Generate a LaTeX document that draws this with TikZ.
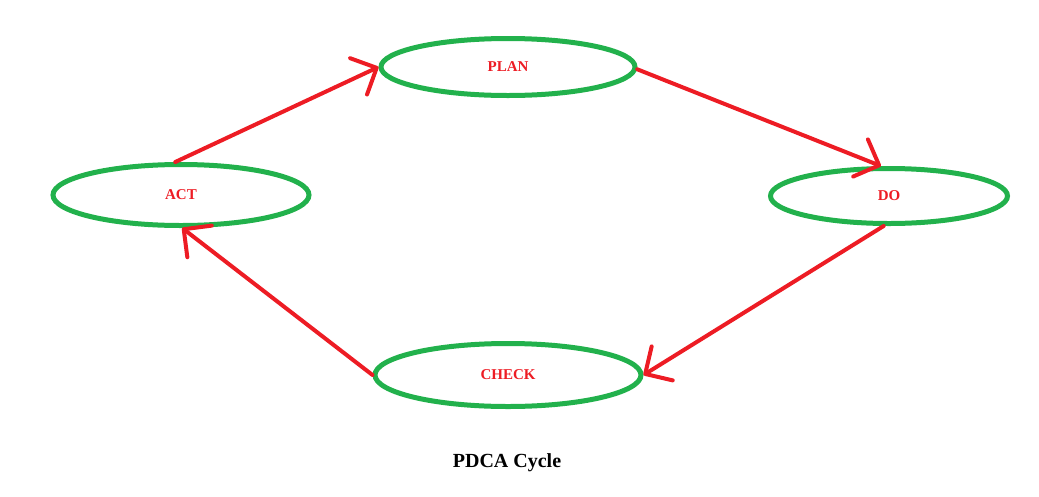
\documentclass[tikz,border=0pt]{standalone}
\usepackage{fontspec}
\setmainfont{Liberation Serif}
\usetikzlibrary{shapes.geometric, arrows.meta, positioning}
\definecolor{paintgreen}{HTML}{22B14C}
\definecolor{paintred}{HTML}{ED1C24}

\tikzset{
  stage/.style={ellipse, draw=paintgreen, line width=5pt, inner sep=0pt,
    text=paintred, font=\bfseries\fontsize{15}{18}\selectfont},
  flow/.style={draw=paintred, line width=4pt, line cap=round,
    -{Straight Barb[length=20pt,width=40pt,round]}}
}

\begin{document}
\begin{tikzpicture}[x=1pt, y=-1pt]
    \useasboundingbox (0,0) rectangle (1039,496);
    \node[stage, minimum width=254pt, minimum height=57pt] (plan) at (508,67) {PLAN};
    \node[stage, minimum width=237pt, minimum height=55pt] (do) at (889,196) {DO};
    \node[stage, minimum width=266pt, minimum height=63pt] (check) at (508,375) {CHECK};
    \node[stage, minimum width=256pt, minimum height=61pt] (act) at (181,195) {ACT};

    \draw[flow] (act.100) -- (plan.west);
    \draw[flow] (plan.-1) -- (do.105);
    \draw[flow] (do.-100) -- (check.east);
    \draw[flow] (check.west) -- (act.-88);

    \node[font=\bfseries\fontsize{20}{24}\selectfont] (title) at (507,463) {PDCA Cycle};
  \end{tikzpicture}
\end{document}
